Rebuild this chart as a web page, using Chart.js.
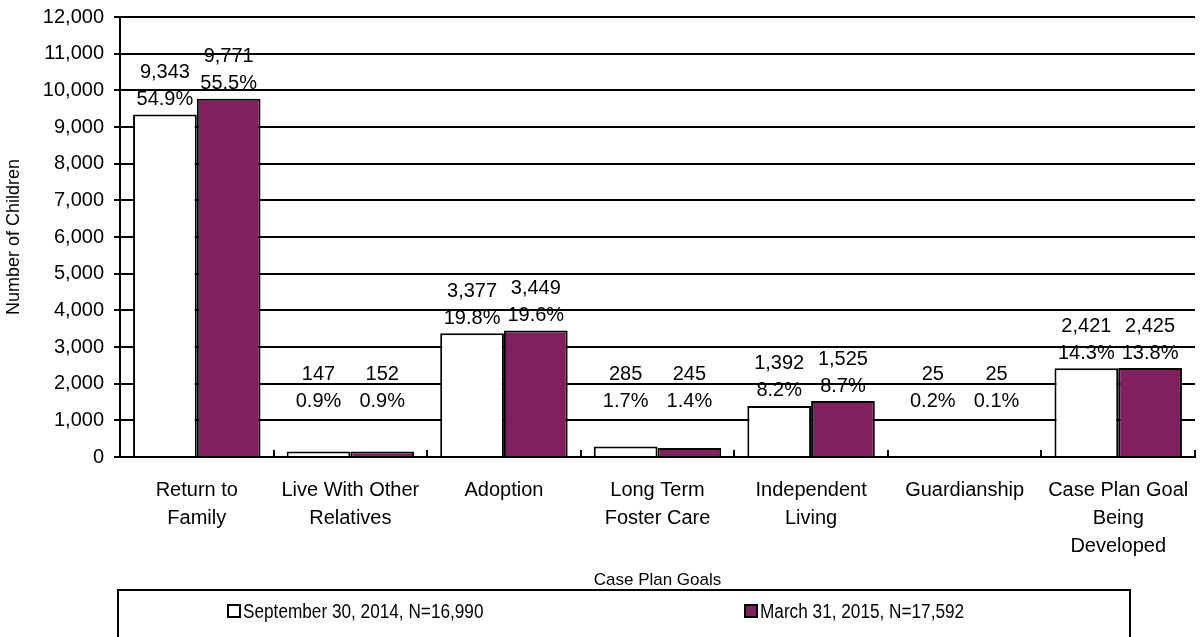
<!DOCTYPE html>
<html>
<head>
<meta charset="utf-8">
<script src="https://cdn.jsdelivr.net/npm/chart.js@4"></script>
<style>
  body { margin: 0; background: #fff; }
</style>
</head>
<body>
<canvas id="goalsChart" width="1200" height="637"></canvas>
<script>
// case plan goals, two snapshot dates
const categories = [
    ['Return to', 'Family'],
    ['Live With Other', 'Relatives'],
    'Adoption',
    ['Long Term', 'Foster Care'],
    ['Independent', 'Living'],
    'Guardianship',
    ['Case Plan Goal', 'Being', 'Developed']
];
const seriesNames = ['September 30, 2014, N=16,990', 'March 31, 2015, N=17,592'];
const sep2014 = [9343, 147, 3377, 285, 1392, 25, 2421];
const mar2015 = [9771, 152, 3449, 245, 1525, 25, 2425];
const sep2014Pct = ['54.9%', '0.9%', '19.8%', '1.7%', '8.2%', '0.2%', '14.3%'];
const mar2015Pct = ['55.5%', '0.9%', '19.6%', '1.4%', '8.7%', '0.1%', '13.8%'];
const yMax = 12000;
const yStep = 1000;

const maroon = '#80205E';
const font = '"Liberation Sans", Arial, sans-serif';

Chart.defaults.color = '#000';
Chart.defaults.font.family = font;

// two-line value labels above each bar
const barLabels = {
    id: 'barLabels',
    afterDatasetsDraw(chart) {
        const ctx = chart.ctx;
        const zeroY = chart.scales.y.getPixelForValue(0);
        ctx.save();
        ctx.font = '20px ' + font;
        ctx.fillStyle = '#000';
        ctx.textAlign = 'center';
        ctx.textBaseline = 'middle';
        chart.data.datasets.forEach((ds, di) => {
            chart.getDatasetMeta(di).data.forEach((bar, i) => {
                const pctY = Math.min(bar.y - 15, zeroY - 56);
                ctx.fillText(ds.data[i].toLocaleString('en-US'), bar.x, pctY - 27);
                ctx.fillText(ds.pct[i], bar.x, pctY);
            });
        });
        ctx.restore();
    }
};

// small upward ticks between categories + boxed legend
const extras = {
    id: 'extras',
    afterDraw(chart) {
        const ctx = chart.ctx;
        const area = chart.chartArea;
        ctx.save();
        ctx.strokeStyle = '#000';
        ctx.lineWidth = 2;
        const step = (area.right - area.left) / categories.length;
        for (let i = 0; i <= categories.length; i++) {
            const px = Math.round(area.left + step * i);
            ctx.beginPath();
            ctx.moveTo(px, area.bottom);
            ctx.lineTo(px, area.bottom - 7);
            ctx.stroke();
        }

        // legend box
        ctx.strokeRect(118, 590, 1012, 70);
        const itemX = [228, 745];
        ctx.font = '20px ' + font;
        ctx.textBaseline = 'middle';
        ctx.textAlign = 'left';
        chart.data.datasets.forEach((ds, di) => {
            const ix = itemX[di];
            ctx.fillStyle = ds.backgroundColor;
            ctx.fillRect(ix, 605, 12, 12);
            ctx.strokeRect(ix, 605, 12, 12);
            // narrow look like the original legend
            ctx.save();
            ctx.translate(ix + 15, 612);
            ctx.scale(0.86, 1);
            ctx.fillStyle = '#000';
            ctx.fillText(ds.label, 0, 0);
            ctx.restore();
        });
        ctx.restore();
    }
};

new Chart(document.getElementById('goalsChart'), {
    type: 'bar',
    data: {
        labels: categories,
        datasets: [
            {
                label: seriesNames[0],
                data: sep2014,
                pct: sep2014Pct,
                backgroundColor: '#ffffff',
                borderColor: '#000',
                borderWidth: 2
            },
            {
                label: seriesNames[1],
                data: mar2015,
                pct: mar2015Pct,
                backgroundColor: maroon,
                borderColor: '#000',
                borderWidth: 2
            }
        ]
    },
    options: {
        responsive: false,
        animation: false,
        categoryPercentage: 0.83,
        barPercentage: 1.0,
        layout: { padding: { top: 17, right: 5, bottom: 46, left: 0 } },
        plugins: {
            legend: { display: false },
            tooltip: { enabled: false }
        },
        scales: {
            x: {
                grid: { display: false },
                border: { display: true, color: '#000', width: 2 },
                ticks: {
                    maxRotation: 0,
                    autoSkip: false,
                    padding: 11,
                    font: { size: 20, lineHeight: 1.4 }
                },
                title: {
                    display: true,
                    text: 'Case Plan Goals',
                    font: { size: 17 },
                    padding: { top: 0, bottom: 0 }
                },
                afterFit(scale) { scale.height = 134; }
            },
            y: {
                min: 0,
                max: yMax,
                grid: { color: '#000', lineWidth: 2, tickLength: 6 },
                border: { display: true, color: '#000', width: 2 },
                ticks: {
                    stepSize: yStep,
                    padding: 10,
                    font: { size: 20 },
                    callback: v => v.toLocaleString('en-US')
                },
                title: {
                    display: true,
                    text: 'Number of Children',
                    font: { size: 18 },
                    padding: { top: 3, bottom: 0 }
                },
                afterFit(scale) {
                    scale.width = 120;
                    scale.paddingTop = 0;
                    scale.paddingBottom = 0;
                }
            }
        }
    },
    plugins: [barLabels, extras]
});
</script>
</body>
</html>
